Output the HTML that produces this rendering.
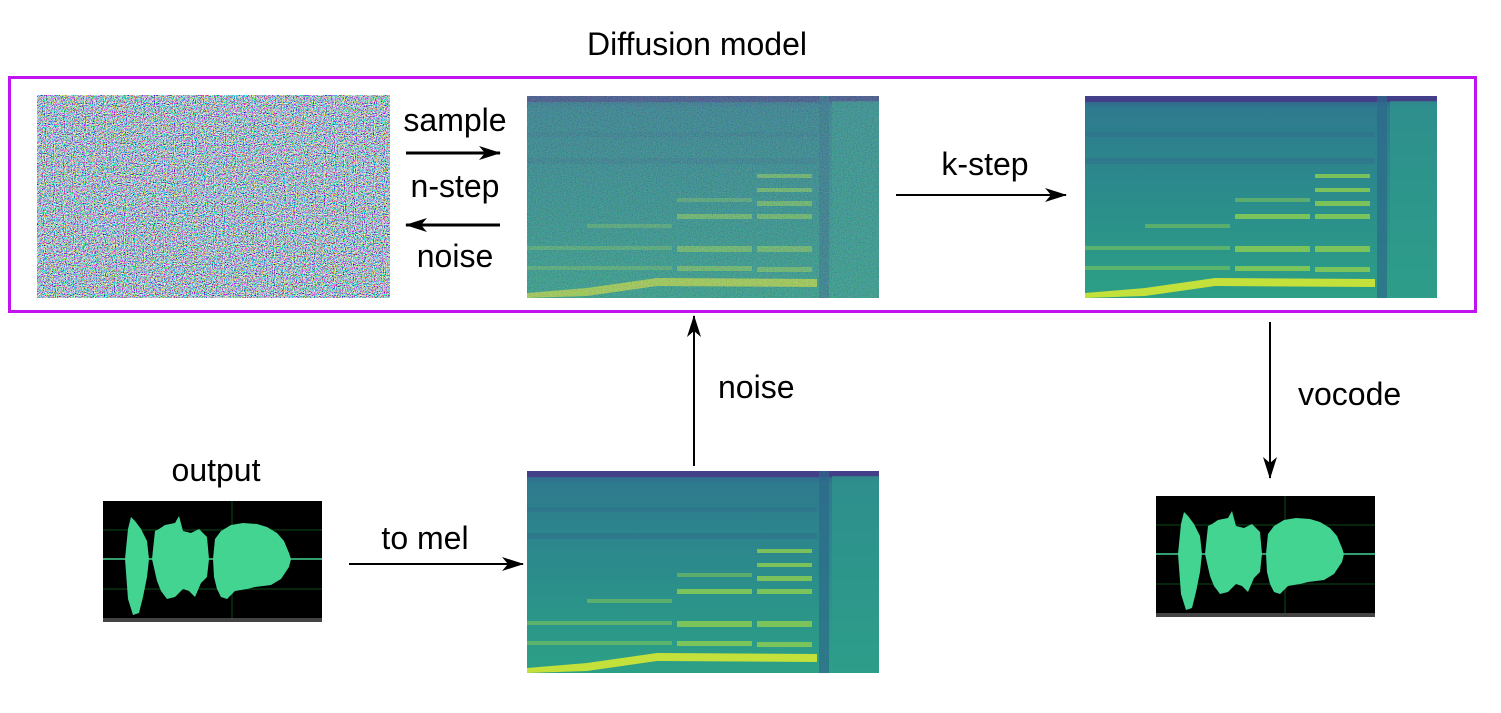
<!DOCTYPE html>
<html><head><meta charset="utf-8"><style>
html,body{margin:0;padding:0;background:#fff;}
svg{display:block;}
text{font-family:"Liberation Sans",sans-serif;font-size:32px;fill:#000;}
</style></head><body>
<svg width="1501" height="713" viewBox="0 0 1501 713" xmlns="http://www.w3.org/2000/svg">
<defs>
<marker id="ah2" markerWidth="22" markerHeight="14" refX="21" refY="7" orient="auto" markerUnits="userSpaceOnUse"><path d="M0,0 L22,7 L0,14 L6,7 Z" fill="#000"/></marker>
<filter id="noise" x="0" y="0" width="100%" height="100%">
<feTurbulence type="fractalNoise" baseFrequency="0.9" numOctaves="1" seed="3"/>
<feComponentTransfer><feFuncR type="linear" slope="3.4" intercept="-1.25"/><feFuncG type="linear" slope="3.4" intercept="-1.15"/><feFuncB type="linear" slope="3.4" intercept="-1.05"/><feFuncA type="linear" slope="0" intercept="1"/></feComponentTransfer>
</filter>
<filter id="grain" x="0" y="0" width="100%" height="100%">
<feTurbulence type="fractalNoise" baseFrequency="0.8" numOctaves="1" seed="7"/>
<feColorMatrix type="matrix" values="0.5 0 0 0 -0.1  0 0.9 0 0 -0.1  0 0 0.8 0 -0.05  0 0 0 0 0.4"/>
</filter>
<linearGradient id="bg" x1="0" y1="0" x2="0" y2="1">
<stop offset="0" stop-color="#38588f"/><stop offset="0.06" stop-color="#2e7a8e"/><stop offset="0.5" stop-color="#2b8c8b"/><stop offset="1" stop-color="#2ca086"/>
</linearGradient>
<g id="spec">
<rect width="352" height="202" fill="url(#bg)"/>
<rect y="0" width="352" height="6" fill="#433f88"/>
<rect x="292" y="0" width="10" height="202" fill="#2e6a8a" opacity="0.7"/>
<rect x="305" y="5" width="47" height="197" fill="#2f9c8c" opacity="0.6"/>
<rect x="0" y="62" width="290" height="6" fill="#31668d" opacity="0.4"/>
<rect x="0" y="36" width="290" height="5" fill="#31668d" opacity="0.35"/>
<g fill="#8fd050" opacity="0.8">
<rect x="230" y="78" width="55" height="4"/><rect x="230" y="92" width="55" height="4"/>
<rect x="150" y="102" width="75" height="4" opacity="0.6"/><rect x="230" y="105" width="55" height="5"/>
<rect x="150" y="118" width="75" height="5"/><rect x="230" y="118" width="55" height="5"/>
<rect x="60" y="128" width="85" height="4" opacity="0.6"/>
<rect x="0" y="150" width="145" height="4" opacity="0.6"/>
<rect x="150" y="150" width="75" height="6"/><rect x="230" y="150" width="55" height="6"/>
<rect x="0" y="170" width="145" height="4" opacity="0.6"/>
<rect x="150" y="170" width="75" height="5"/><rect x="230" y="171" width="55" height="5"/>
</g>
<path d="M0,197 L60,192 L130,182 L290,183 L290,191 L130,190 L60,200 L0,202Z" fill="#c4e03a"/>
</g>
<g id="wave">
<rect width="219" height="121" fill="#000"/>
<rect y="117" width="219" height="4" fill="#444"/>
<line x1="0" y1="29" x2="219" y2="29" stroke="#0b4a1a"/><line x1="0" y1="88" x2="219" y2="88" stroke="#0b4a1a"/>
<line x1="129" y1="0" x2="129" y2="117" stroke="#0b4a1a"/>
<line x1="0" y1="58" x2="219" y2="58" stroke="#44d492" stroke-width="1.5"/>
<path d="M22,58 L25,28 L28,16 L32,20 L38,28 L44,40 L46,58 L44,76 L40,96 L36,112 L30,114 L25,98 Z" fill="#44d492"/>
<path d="M49,58 L52,30 L56,28 L62,24 L72,22 L76,15 L80,30 L88,32 L96,28 L104,36 L106,58 L104,76 L98,82 L92,96 L86,90 L80,88 L72,96 L64,98 L58,90 L54,80 Z" fill="#44d492"/>
<path d="M110,58 L112,38 L118,30 L128,24 L140,22 L154,23 L164,26 L174,32 L181,40 L186,52 L188,58 L186,66 L178,78 L168,84 L152,86 L144,88 L132,90 L124,98 L118,96 L114,88 L111,76 Z" fill="#44d492"/>
</g>
</defs>

<text x="697" y="55" text-anchor="middle">Diffusion model</text>
<rect x="9.5" y="77.5" width="1466" height="234" fill="none" stroke="#c013f0" stroke-width="3"/>

<rect x="37" y="95" width="353" height="203" filter="url(#noise)"/>

<use href="#spec" x="527" y="96"/>
<rect x="527" y="96" width="352" height="202" filter="url(#grain)"/>
<use href="#spec" x="1085" y="96"/>
<use href="#spec" x="527" y="471"/>

<text x="455" y="131" text-anchor="middle">sample</text>
<line x1="406" y1="153" x2="500" y2="153" stroke="#000" stroke-width="3" marker-end="url(#ah2)"/>
<text x="455" y="197" text-anchor="middle">n-step</text>
<line x1="500" y1="225" x2="406" y2="225" stroke="#000" stroke-width="3" marker-end="url(#ah2)"/>
<text x="455" y="267" text-anchor="middle">noise</text>

<text x="985" y="175" text-anchor="middle">k-step</text>
<line x1="896" y1="195" x2="1066" y2="195" stroke="#000" stroke-width="2" marker-end="url(#ah2)"/>

<line x1="694" y1="466" x2="694" y2="316" stroke="#000" stroke-width="2" marker-end="url(#ah2)"/>
<text x="718" y="398">noise</text>

<line x1="1270" y1="322" x2="1270" y2="478" stroke="#000" stroke-width="2" marker-end="url(#ah2)"/>
<text x="1298" y="405">vocode</text>

<text x="216" y="481" text-anchor="middle">output</text>
<use href="#wave" x="103" y="501"/>
<text x="425" y="549" text-anchor="middle">to mel</text>
<line x1="349" y1="564" x2="523" y2="564" stroke="#000" stroke-width="2" marker-end="url(#ah2)"/>

<use href="#wave" x="1156" y="496"/>
</svg>
</body></html>
